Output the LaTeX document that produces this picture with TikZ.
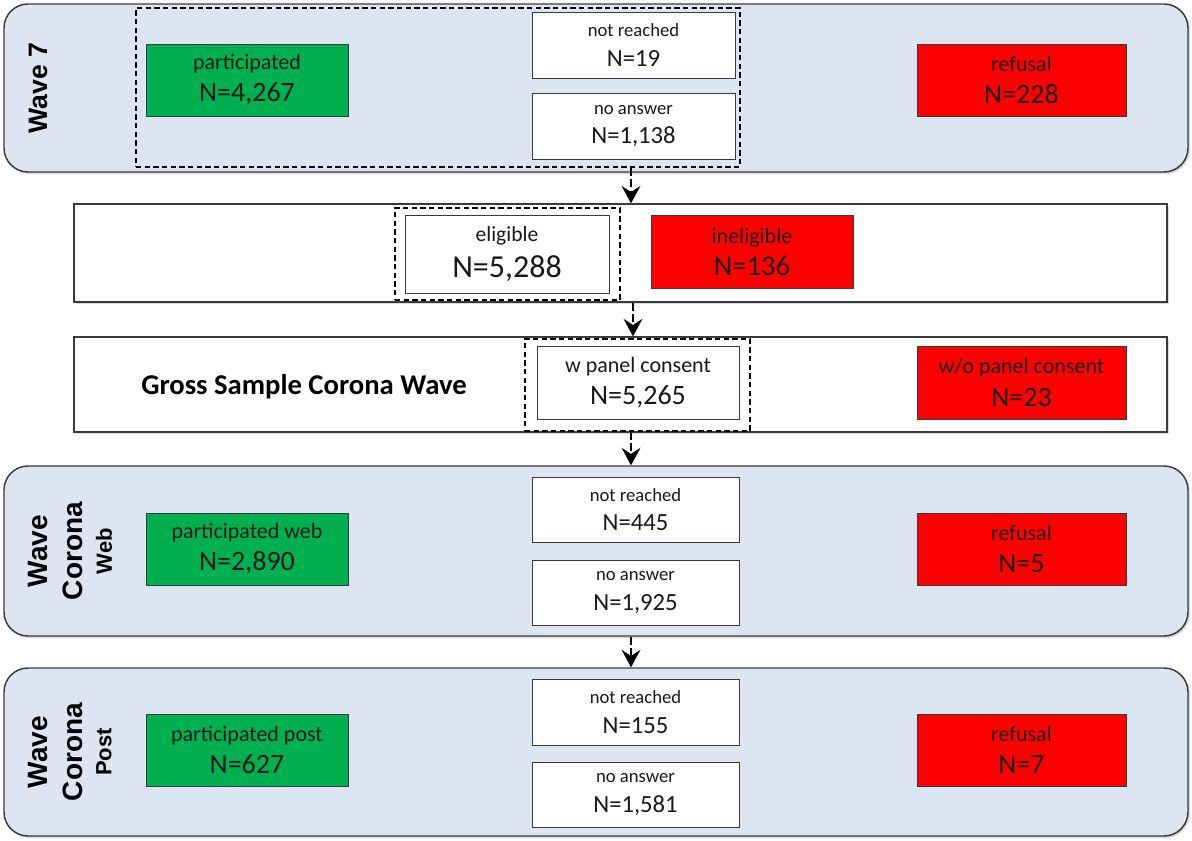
\documentclass[tikz,border=0pt]{standalone}
\usepackage{fontspec}
\setmainfont{Carlito}
\newfontfamily\arialfont{Liberation Sans}
\usetikzlibrary{fit,shadows,arrows.meta}
\definecolor{panelblue}{HTML}{DCE6F2}
\definecolor{okgreen}{HTML}{00B050}
\definecolor{nored}{HTML}{FF0000}
\definecolor{edgegray}{HTML}{3A3A3A}
% two centred lines: #1 size of line 1, #2 line 1, #3 size of line 2, #4 line 2, #5 baseline distance
\newcommand\celltxt[5]{\vbox{\baselineskip=#5\relax\lineskiplimit=-50pt\lineskip=0pt
  \halign{\hfil##\hfil\cr
  \fontsize{#1}{#1}\selectfont #2\cr
  \fontsize{#3}{#3}\selectfont #4\cr}}}
\newcommand\smallpair[2]{\celltxt{14}{#1}{18.5}{#2}{22pt}}
\newcommand\midpair[2]{\celltxt{16.5}{#1}{21}{#2}{24pt}}
\begin{document}
\begin{tikzpicture}[x=0.75pt,y=-0.75pt,
  panel/.style={draw=edgegray, line width=1.1pt, fill=panelblue, rounded corners=18pt, inner sep=0pt,
    drop shadow={shadow xshift=1.5pt, shadow yshift=-1.5pt, opacity=0.3}},
  band/.style={draw=edgegray, line width=1pt, fill=white, inner sep=0pt,
    drop shadow={shadow xshift=1.5pt, shadow yshift=-1.5pt, opacity=0.3}},
  sz/.style 2 args={minimum width=#1*0.75pt, minimum height=#2*0.75pt},
  cell/.style={draw=edgegray, line width=0.7pt, inner sep=0pt, text=black!90, anchor=center},
  whitecell/.style={cell, fill=white},
  greencell/.style={cell, fill=okgreen},
  redcell/.style={cell, fill=nored},
  dashbox/.style={draw=black, line width=1.5pt, dash pattern=on 4pt off 2.5pt, inner sep=0pt},
  flow/.style={draw=black, line width=2.2pt, dash pattern=on 6pt off 2.5pt,
    -{Stealth[length=13pt,width=14pt,inset=4.5pt]}},
  wavelab/.style={font=\arialfont\bfseries\fontsize{21}{21}\selectfont, rotate=90, inner sep=0pt},
  sublab/.style={font=\arialfont\bfseries\fontsize{16.5}{16.5}\selectfont, rotate=90, inner sep=0pt},
]
\useasboundingbox (0,0) rectangle (1192,840);
\coordinate (axis) at (631,0);

% ---------------- Wave 7 ----------------
\node[panel, fit={(4,4) (1188,172)}] (p1) {};
\node[wavelab, font=\arialfont\bfseries\fontsize{20}{20}\selectfont] (l1) at (38,88) {Wave 7};
\node[dashbox, fit={(136,8) (740,167)}] (d1) {};
\node[greencell, sz={202}{72}] (w7part) at (247,80) {\midpair{participated}{N=4,267}};
\node[whitecell, sz={203}{66}] (w7nr) at (633.5,45) {\smallpair{not reached}{N=19}};
\node[whitecell, sz={203}{66}] (w7na) at (633.5,126) {\smallpair{no answer}{N=1,138}};
\node[redcell, sz={209}{72}] (w7ref) at (1021.5,80) {\midpair{refusal}{N=228}};

% ---------------- eligibility ----------------
\node[band, fit={(74,204) (1167,302)}] (b2) {};
\node[dashbox, fit={(395,208) (620,300)}] (d2) {};
\node[whitecell, sz={204}{78}] (elig) at (507,254) {\celltxt{16.2}{eligible}{24}{N=5,288}{27.5pt}};
\node[redcell, sz={202}{73}] (inel) at (752,251.5) {\celltxt{16.5}{ineligible}{21.5}{N=136}{24pt}};

% ---------------- gross sample ----------------
\node[band, fit={(74,337) (1167,432)}] (b3) {};
\node[font=\bfseries\fontsize{21.5}{21.5}\selectfont, inner sep=0pt] (gross) at (304,387) {Gross Sample Corona Wave};
\node[dashbox, fit={(525,339) (750,431)}] (d3) {};
\node[whitecell, sz={202}{73}] (wpc) at (638,382.5) {\celltxt{16.5}{w panel consent}{21}{N=5,265}{24pt}};
\node[redcell, sz={209}{73}] (wopc) at (1021.5,382.5) {\celltxt{16.5}{w/o panel consent}{21}{N=23}{24.5pt}};

% ---------------- Wave Corona Web ----------------
\node[panel, fit={(4,466) (1188,636)}] (p4) {};
\node[wavelab] (l4a) at (38,551) {Wave};
\node[wavelab] (l4b) at (73,551) {Corona};
\node[sublab] (l4c) at (104,551) {Web};
\node[greencell, sz={202}{72}] (wcpart) at (247,549) {\midpair{participated web}{N=2,890}};
\node[whitecell, sz={207}{65}] (wcnr) at (635.5,509.5) {\smallpair{not reached}{N=445}};
\node[whitecell, sz={207}{65}] (wcna) at (635.5,592.5) {\smallpair{no answer}{N=1,925}};
\node[redcell, sz={209}{72}] (wcref) at (1021.5,549) {\midpair{refusal}{N=5}};

% ---------------- Wave Corona Post ----------------
\node[panel, fit={(4,668) (1188,836)}] (p5) {};
\node[wavelab] (l5a) at (38,752) {Wave};
\node[wavelab] (l5b) at (73,752) {Corona};
\node[sublab] (l5c) at (104,752) {Post};
\node[greencell, sz={202}{72}] (pcpart) at (247,750) {\midpair{participated post}{N=627}};
\node[whitecell, sz={207}{66}] (pcnr) at (635.5,712) {\smallpair{not reached}{N=155}};
\node[whitecell, sz={207}{65}] (pcna) at (635.5,794.5) {\smallpair{no answer}{N=1,581}};
\node[redcell, sz={209}{72}] (pcref) at (1021.5,750) {\midpair{refusal}{N=7}};

% ---------------- connectors ----------------
\draw[flow] (d1.south -| axis) -- (b2.north -| axis);
\draw[flow] ([xshift=1.5pt]b2.south -| axis) -- ([xshift=1.5pt]b3.north -| axis);
\draw[flow] (d3.south -| axis) -- (p4.north -| axis);
\draw[flow] (p4.south -| axis) -- (p5.north -| axis);
\end{tikzpicture}
\end{document}
